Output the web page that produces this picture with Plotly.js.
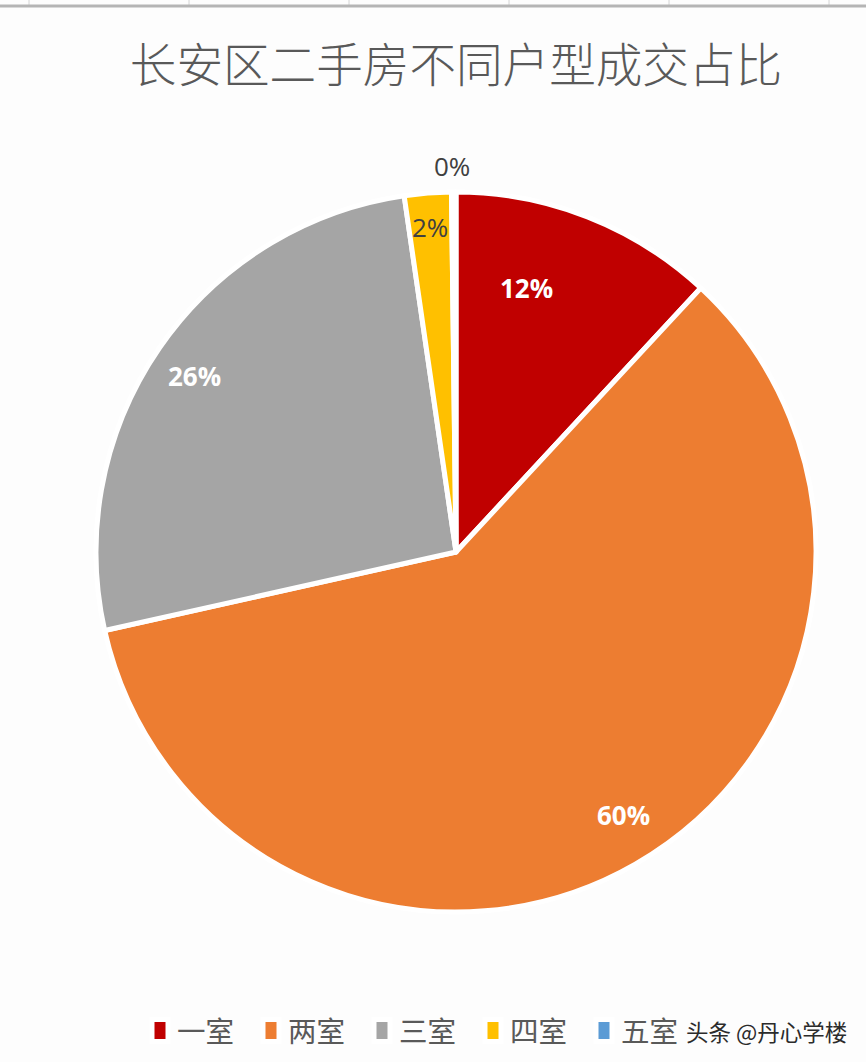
<!DOCTYPE html>
<html>
<head>
<meta charset="utf-8">
<script src="https://cdn.plot.ly/plotly-3.0.1.min.js"></script>
<style>
  html, body { margin: 0; padding: 0; background: #fdfdfd; }
  #chart { width: 866px; height: 1062px; }
</style>
</head>
<body>
<div id="chart"></div>
<script>
const WIDTH = 866;
const HEIGHT = 1062;

// Values; the printed labels are the rounded ones
const rooms = ["一室", "两室", "三室", "四室", "五室"];
const shares = [11.9, 59.6, 26.2, 2.1, 0.2];
const shareLabels = ["12%", "60%", "26%", "2%", "0%"];
const sliceColors = ["#C00000", "#ED7D31", "#A5A5A5", "#FFC000", "#5B9BD5"];

// Where each label sits on the page, x and y in pixels
const labelX = [526, 623, 194, 430, 452];
const labelY = [288, 815, 376, 227, 166];
const labelColors = ["#FFFFFF", "#FFFFFF", "#FFFFFF", "#404040", "#404040"];
const labelWeights = [700, 700, 700, 400, 400];

// Spreadsheet column edges showing at the top of the screenshot
const columnEdges = [29, 189, 349, 509, 669, 829];

const CJK_FONT = '"Noto Sans CJK SC", sans-serif';

function pageX(px) { return px / WIDTH; }
function pageY(py) { return 1 - py / HEIGHT; }

const labelAnnotations = shareLabels.map((text, i) => ({
  text: text,
  x: pageX(labelX[i]),
  y: pageY(labelY[i]),
  xref: "paper",
  yref: "paper",
  xanchor: "center",
  yanchor: "middle",
  showarrow: false,
  font: { family: "Open Sans, sans-serif", size: 26, color: labelColors[i], weight: labelWeights[i] },
}));

const watermark = {
  text: "头条 @丹心学楼",
  x: pageX(766),
  y: pageY(1031),
  xref: "paper",
  yref: "paper",
  xanchor: "center",
  yanchor: "middle",
  showarrow: false,
  font: { family: CJK_FONT, size: 22.5, color: "#2b2b2b" },
};

const columnLines = columnEdges.map((px) => ({
  type: "line",
  xref: "paper",
  yref: "paper",
  x0: pageX(px),
  x1: pageX(px),
  y0: pageY(0),
  y1: pageY(5),
  line: { color: "#d4d4d4", width: 1 },
}));

Plotly.newPlot(
  "chart",
  [
    {
      type: "pie",
      labels: rooms,
      values: shares,
      sort: false,
      direction: "clockwise",
      rotation: 0,
      textinfo: "none",
      hoverinfo: "label+percent",
      marker: { colors: sliceColors, line: { color: "#FFFFFF", width: 5 } },
      domain: {
        x: [pageX(96), pageX(816)],
        y: [pageY(912), pageY(192)],
      },
    },
  ],
  {
    width: WIDTH,
    height: HEIGHT,
    margin: { t: 0, r: 0, b: 0, l: 0 },
    paper_bgcolor: "#fdfdfd",
    font: { family: CJK_FONT, color: "#595959" },
    title: {
      text: "长安区二手房不同户型成交占比",
      font: { family: CJK_FONT, size: 46.6, color: "#595959", weight: 300 },
      x: pageX(456),
      xanchor: "center",
      y: pageY(66),
      yanchor: "middle",
    },
    showlegend: true,
    legend: {
      orientation: "h",
      x: pageX(137),
      xanchor: "left",
      y: pageY(1031),
      yanchor: "middle",
      font: { family: CJK_FONT, size: 28.5, color: "#595959" },
      itemwidth: 30,
      entrywidth: 66,
      entrywidthmode: "pixels",
      traceorder: "normal",
    },
    shapes: [
      ...columnLines,
      {
        type: "line",
        xref: "paper",
        yref: "paper",
        x0: 0,
        x1: 1,
        y0: pageY(6),
        y1: pageY(6),
        line: { color: "#b5b5b5", width: 3 },
      },
    ],
    annotations: [...labelAnnotations, watermark],
  },
  { displayModeBar: false }
).then(() => {
  // the legend swatches are tall bars in the reference, not small squares
  document.querySelectorAll("#chart .legend path.legendpie").forEach((swatch) => {
    swatch.setAttribute("d", "M11,11H-5V-11H11Z");
  });
});
</script>
</body>
</html>
